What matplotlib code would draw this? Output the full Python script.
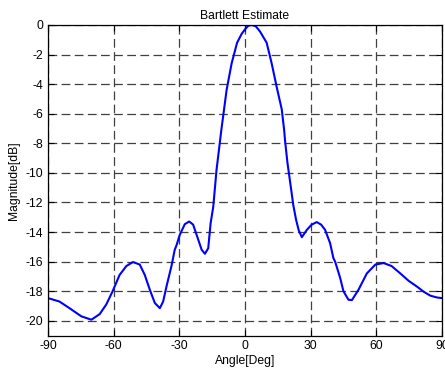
import numpy as np
import matplotlib
matplotlib.use('Agg')
import matplotlib.pyplot as plt

# valeurs (angle en degres, magnitude en dB)
angle_deg = [-90, -84.8, -80.2, -74.8, -70.2, -66.4, -63.4, -60.6, -57.3, -54.2,
             -51.2, -48.1, -45.8, -43.5, -41.2, -38.9, -37.4, -35.9, -33.6, -32.1,
             -31.3, -29.8, -27.5, -25.5, -23.7, -21.4, -19.8, -18.3, -16.8, -15.7,
             -14.5, -13.0, -11.9, -10.8, -8.4, -6.1, -3.6, -1.5, 0.0, 1.5, 3.1,
             5.0, 6.9, 9.9, 12.2, 14.5, 16.8, 17.9, 18.3, 19.4, 20.9,
             22.1, 23.4, 24.6, 26.0, 28.3, 30.5, 32.8, 34.8, 36.6, 38.9,
             40.4, 41.2, 43.5, 45.0, 47.3, 48.9, 51.9, 55.7, 59.6, 63.4,
             67.0, 71.0, 74.8, 78.7, 81.8, 84.7, 87.5, 90]
magnitude_db = [-18.47, -18.7, -19.15, -19.7, -19.93, -19.55, -18.9, -18.04, -16.9, -16.3,
                -16.03, -16.2, -16.9, -17.9, -18.8, -19.15, -18.7, -17.7, -16.3, -15.2,
                -14.9, -14.19, -13.47, -13.29, -13.5, -14.5, -15.2, -15.47, -15.1, -13.4,
                -12.3, -9.8, -8.45, -7.1, -4.4, -2.6, -1.2, -0.6, -0.3, -0.05, 0.0,
                -0.1, -0.45, -1.2, -2.6, -4.2, -5.7, -7.1, -7.8, -9.3, -10.9,
                -12.2, -13.2, -13.9, -14.35, -13.85, -13.5, -13.33, -13.5, -13.85, -14.75,
                -15.76, -16.0, -17.1, -18.0, -18.58, -18.6, -17.9, -16.8, -16.2, -16.1,
                -16.3, -16.8, -17.3, -17.7, -18.05, -18.3, -18.42, -18.47]

x_ticks = [-90, -60, -30, 0, 30, 60, 90]
y_ticks = list(range(-20, 1, 2))

plt.rcParams['font.family'] = ['Liberation Sans', 'DejaVu Sans']
plt.rcParams['font.size'] = 8.7
plt.rcParams['axes.unicode_minus'] = False

fig = plt.figure(figsize=(4.45, 3.72), dpi=100)
ax = fig.add_axes([0.108, 0.098, 0.885, 0.835])

ax.plot(angle_deg, magnitude_db, color=(0, 0, 1), linewidth=1.5)

ax.set_xlim(-90, 90)
ax.set_ylim(-21, 0)
ax.set_xticks(x_ticks)
ax.set_yticks(y_ticks)
ax.tick_params(direction='in', top=True, right=True, length=4, width=0.8, labelsize=8.7)

ax.grid(True, color='0.25', linestyle=(0, (7, 3.5)), linewidth=0.9)

for s in ax.spines.values():
    s.set_linewidth(0.9)

ax.set_title('Bartlett Estimate', fontsize=8.7, pad=4)
ax.set_xlabel('Angle[Deg]', fontsize=8.7, labelpad=2)
ax.set_ylabel('Magnitude[dB]', fontsize=8.7, labelpad=4)

fig.savefig('out.png', dpi=100)
